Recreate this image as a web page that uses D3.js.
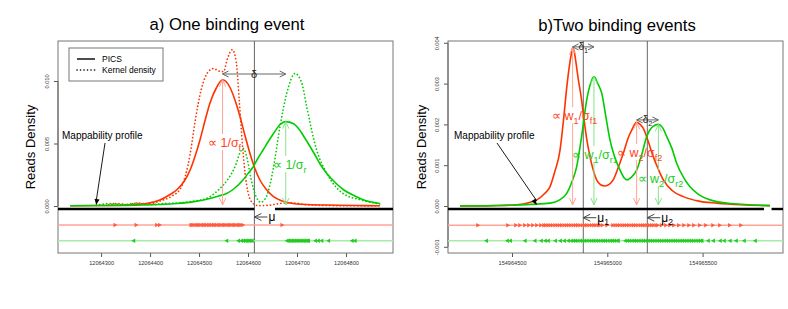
<!DOCTYPE html>
<html><head><meta charset="utf-8">
<script src="https://cdn.jsdelivr.net/npm/d3@7"></script>
<style>body{margin:0;background:#fff}svg{display:block;font-family:"Liberation Sans",Arial,sans-serif}</style>
</head><body><svg id="c" width="788" height="309"></svg>
<script>
// ---------- DATA ----------
const leftTicksX = [12064300, 12064400, 12064500, 12064600, 12064700, 12064800];
const leftTicksY = [0, 0.005, 0.010];
const rightTicksX = [154964500, 154965000, 154965500];
const rightTicksY = [-0.001, 0, 0.001, 0.002, 0.003, 0.004];
const legendLabels = ["PICS", "Kernel density"];
const titles = ["a) One binding event", "b)Two binding events"];

// Panel a: PICS fitted densities (position, density)
const leftPicsFwd = [[12064237,0.00002],[12064300,0.00004],[12064352,0.00008],[12064390,0.00018],[12064420,0.00048],[12064440,0.0009],[12064454,0.00128],[12064470,0.002],[12064482,0.0029],[12064492,0.0040],[12064502,0.0053],[12064512,0.0068],[12064522,0.0082],[12064536,0.0095],[12064548,0.0101],[12064563,0.0095],[12064574,0.0084],[12064584,0.0071],[12064594,0.0056],[12064604,0.0042],[12064614,0.0030],[12064624,0.0021],[12064638,0.0013],[12064652,0.00075],[12064670,0.0004],[12064692,0.0002],[12064730,0.0001],[12064761,0.00008],[12064820,0.00004],[12064869,0.00002]];
const leftPicsRev = [[12064237,0.00002],[12064300,0.00004],[12064352,0.00005],[12064420,0.00012],[12064454,0.0002],[12064490,0.00035],[12064522,0.0006],[12064540,0.0008],[12064556,0.001],[12064572,0.0014],[12064590,0.0021],[12064600,0.0026],[12064610,0.0031],[12064620,0.0038],[12064631,0.0045],[12064642,0.0052],[12064652,0.0058],[12064665,0.0065],[12064677,0.00675],[12064692,0.0066],[12064705,0.0061],[12064715,0.0055],[12064726,0.0048],[12064735,0.0042],[12064748,0.0033],[12064761,0.0026],[12064780,0.0018],[12064795,0.0013],[12064818,0.0008],[12064835,0.0005],[12064869,0.0002]];
// Panel a: kernel densities
const leftKdeFwd = [[12064315,0.0001],[12064335,0.0002],[12064355,0.0001],[12064375,0.00025],[12064395,0.00015],[12064420,0.0004],[12064445,0.0008],[12064462,0.0014],[12064472,0.0024],[12064482,0.0042],[12064492,0.0068],[12064505,0.0094],[12064518,0.0107],[12064530,0.011],[12064540,0.0108],[12064550,0.01075],[12064558,0.0118],[12064568,0.0125],[12064576,0.0115],[12064582,0.0085],[12064588,0.0052],[12064594,0.0026],[12064600,0.0011],[12064608,0.0003],[12064620,0.00003],[12064640,0.00005],[12064665,0.0002],[12064690,0.00025],[12064720,0.0001],[12064760,0.00004],[12064800,0.00002],[12064869,0.00002]];
const leftKdeRev = [[12064290,0.00005],[12064320,0.0002],[12064345,0.0001],[12064370,0.00022],[12064400,0.0001],[12064430,0.0002],[12064460,0.00025],[12064490,0.0004],[12064515,0.0006],[12064540,0.0013],[12064560,0.0022],[12064575,0.0033],[12064584,0.0043],[12064590,0.0046],[12064597,0.0040],[12064606,0.0022],[12064616,0.0008],[12064626,0.0003],[12064638,0.0008],[12064652,0.0031],[12064665,0.0063],[12064679,0.009],[12064696,0.0106],[12064710,0.0098],[12064720,0.0079],[12064740,0.0045],[12064761,0.0026],[12064794,0.001],[12064829,0.0005],[12064869,0.00016]];
// Panel a: mappable regions, reads
const leftMappable = [[12064212, 12064613], [12064655, 12064896]];
const leftFwdReads = [12064329,12064372,12064414,12064420,12064484,12064487,12064490,12064494,12064497,12064500,12064503,12064507,12064510,12064513,12064516,12064520,12064523,12064526,12064530,12064533,12064536,12064540,12064543,12064546,12064550,12064553,12064556,12064560,12064563,12064566,12064570,12064573,12064576,12064580,12064583,12064586,12064590,12064670];
const leftRevReads = [12064366,12064556,12064580,12064586,12064590,12064593,12064596,12064599,12064602,12064605,12064608,12064679,12064682,12064685,12064688,12064691,12064694,12064697,12064700,12064703,12064706,12064709,12064712,12064715,12064718,12064721,12064723,12064737,12064743,12064750,12064764,12064812,12064818];
const leftMu = 12064613;
const leftPeaks = {fwd:[12064548,0.0101], rev:[12064677,0.00675]};

// Panel b
const rightPicsFwd = [[154964227,0],[154964400,0.00001],[154964525,0.00003],[154964600,0.0001],[154964630,0.00015],[154964670,0.0003],[154964699,0.00047],[154964725,0.00085],[154964752,0.00137],[154964770,0.0021],[154964787,0.0029],[154964800,0.0034],[154964810,0.0037],[154964818,0.00388],[154964826,0.0038],[154964836,0.0035],[154964848,0.0031],[154964862,0.0027],[154964874,0.00227],[154964890,0.0017],[154964909,0.00121],[154964925,0.0009],[154964944,0.00064],[154964965,0.00052],[154964988,0.00049],[154965010,0.00053],[154965031,0.00064],[154965058,0.00095],[154965084,0.00129],[154965108,0.00165],[154965128,0.00186],[154965154,0.00205],[154965172,0.002],[154965189,0.0019],[154965215,0.00158],[154965241,0.00121],[154965268,0.0009],[154965294,0.00064],[154965340,0.00038],[154965399,0.00023],[154965480,0.00012],[154965574,0.00007],[154965700,0.00003],[154965854,0.00001]];
const rightPicsRev = [[154964227,0],[154964500,0.00002],[154964600,0.00004],[154964699,0.00007],[154964750,0.00015],[154964787,0.00031],[154964815,0.0006],[154964839,0.00096],[154964865,0.0017],[154964892,0.0026],[154964912,0.0030],[154964930,0.00317],[154964950,0.003],[154964971,0.00276],[154964992,0.0022],[154965014,0.00162],[154965040,0.00118],[154965067,0.00088],[154965090,0.00068],[154965105,0.00064],[154965125,0.0007],[154965154,0.00088],[154965180,0.00125],[154965207,0.0017],[154965240,0.00195],[154965268,0.002],[154965290,0.00192],[154965312,0.0017],[154965340,0.0014],[154965364,0.00105],[154965400,0.0007],[154965434,0.00047],[154965480,0.00028],[154965539,0.00015],[154965650,0.00006],[154965854,0.00001]];
const rightMappable = [[154964164, 154965822], [154965862, 154965922]];
const rightFwdReads = [154964322,154964479,154964521,154964542,154964568,154964589,154964610,154964631,154964652,154964668,154964678,154964690,154964701,154964713,154964726,154964738,154964749,154964761,154964774,154964786,154964797,154964809,154964822,154964834,154964845,154964857,154964870,154964882,154964893,154964905,154964918,154964930,154964941,154964953,154964962,154964975,154965000,154965030,154965042,154965053,154965065,154965078,154965090,154965101,154965113,154965126,154965138,154965149,154965161,154965174,154965186,154965197,154965209,154965222,154965234,154965245,154965257,154965266,154965285,154965308,154965329,154965350,154965376,154965403,154965429,154965455,154965486,154965518,154965555,154965591,154965643,154965702];
const rightRevReads = [154964364,154964474,154964490,154964567,154964619,154964652,154964673,154964689,154964726,154964752,154964773,154964794,154964810,154964822,154964833,154964845,154964858,154964870,154964881,154964893,154964906,154964918,154964929,154964941,154964954,154964966,154964977,154964989,154965002,154965014,154965025,154965037,154965050,154965056,154965093,154965105,154965117,154965129,154965141,154965153,154965165,154965177,154965189,154965201,154965213,154965225,154965237,154965249,154965261,154965273,154965285,154965297,154965309,154965321,154965333,154965345,154965357,154965369,154965381,154965393,154965405,154965417,154965429,154965441,154965453,154965465,154965477,154965489,154965495,154965528,154965555,154965591,154965612,154965643,154965675,154965717,154965775];
const rightMu = [154964874, 154965210];
const rightPeaks = {fwd:[[154964818,0.00388],[154965154,0.00205]], rev:[[154964930,0.00317],[154965268,0.002]]};

// ---------- STYLE ----------
const RED = "#ff3300", GREEN = "#00cc00";
const RED_L = "#ffa494", GREEN_L = "#a6eca6";
const RED_T = "#ff4422", GREEN_T = "#22cc22";

const svg = d3.select("#c");

function vArrowHead(g, x, y, dir, color, len = 7, spread = 3.2) {
  g.append("path").attr("d", `M${x - spread},${y - dir * len}L${x},${y}L${x + spread},${y - dir * len}`)
    .attr("fill", "none").attr("stroke", color).attr("stroke-width", 1);
}
function hArrowHead(g, x, y, dir, color, len = 7, spread = 3.2) {
  g.append("path").attr("d", `M${x - dir * len},${y - spread}L${x},${y}L${x - dir * len},${y + spread}`)
    .attr("fill", "none").attr("stroke", color).attr("stroke-width", 1);
}
function rich(g, x, y, parts, size, color, anchor = "middle") {
  const t = g.append("text").attr("x", x).attr("y", y).attr("font-size", size)
    .attr("fill", color).attr("text-anchor", anchor);
  let sub = false;
  parts.forEach(([s, isSub]) => {
    const sp = t.append("tspan").text(s);
    if (isSub && !sub) sp.attr("dy", size * 0.3).attr("font-size", size * 0.72);
    else if (isSub) sp.attr("font-size", size * 0.72);
    else if (!isSub && sub) sp.attr("dy", -size * 0.3);
    sub = isSub;
  });
  return t;
}

function panel(p) {
  const x = d3.scaleLinear().domain(p.xDomain).range([p.left, p.right]);
  const y = d3.scaleLinear().domain(p.yDomain).range([p.bottom, p.top]);
  const g = svg.append("g");

  g.append("text").attr("x", p.titleX).attr("y", p.titleY).attr("text-anchor", "middle")
    .attr("font-size", 16.7).attr("fill", "#000").text(p.title);

  g.append("text").attr("transform", `translate(${p.ylabX},${(p.top + p.bottom) / 2}) rotate(-90)`)
    .attr("text-anchor", "middle").attr("font-size", 13).attr("fill", "#000").text("Reads Density");

  const xa = g.append("g").attr("transform", `translate(0,${p.bottom})`)
    .call(d3.axisBottom(x).tickValues(p.xTicks).tickSize(4).tickPadding(4).tickFormat(d3.format("d")));
  xa.select(".domain").remove();
  xa.selectAll("line").attr("stroke", "#555");
  xa.selectAll("text").attr("font-size", 5.6).attr("fill", "#333").attr("font-family", "Liberation Sans, Arial, sans-serif");

  const ya = g.append("g").attr("transform", `translate(${p.left},0)`)
    .call(d3.axisLeft(y).tickValues(p.yTicks).tickSize(4).tickFormat(d => d3.format(".3f")(d).replace("\u2212", "-")));
  ya.select(".domain").attr("d", `M0,${y(p.yTicks[0])}V${y(p.yTicks[p.yTicks.length - 1])}`).attr("stroke", "#555");
  ya.selectAll("line").attr("stroke", "#555");
  ya.selectAll("text").attr("font-size", 5.6).attr("fill", "#333").attr("font-family", "Liberation Sans, Arial, sans-serif")
    .attr("x", 0).attr("y", -9).attr("dy", 0).attr("text-anchor", "middle").attr("transform", "rotate(-90)");

  g.append("rect").attr("x", p.left).attr("y", p.top).attr("width", p.right - p.left).attr("height", p.bottom - p.top)
    .attr("fill", "none").attr("stroke", "#777").attr("stroke-width", 1);

  return {x, y, g};
}

function readsRow(P, reads, level, lineColor, fillColor, dir) {
  const {x, y, g} = P;
  g.append("line").attr("x1", x.range()[0]).attr("x2", x.range()[1]).attr("y1", y(level)).attr("y2", y(level))
    .attr("stroke", lineColor).attr("stroke-width", 1.4);
  g.selectAll(null).data(reads).enter().append("path")
    .attr("transform", d => `translate(${x(d)},${y(level)})`)
    .attr("d", dir > 0 ? "M-1.8,-2.2L2,0L-1.8,2.2Z" : "M1.8,-2.2L-2,0L1.8,2.2Z")
    .attr("fill", fillColor).attr("stroke", "none");
}

function curve(P, data, color, dotted) {
  const {x, y, g} = P;
  const line = d3.line().x(d => x(d[0])).y(d => y(d[1])).curve(d3.curveMonotoneX);
  g.append("path").datum(data).attr("d", line).attr("fill", "none").attr("stroke", color)
    .attr("stroke-width", dotted ? 1.7 : 1.6)
    .attr("stroke-dasharray", dotted ? "0.1,3.4" : null).attr("stroke-linecap", dotted ? "round" : "butt");
}

function mappability(P, segs, level) {
  const {x, y, g} = P;
  g.selectAll(null).data(segs).enter().append("line")
    .attr("x1", d => x(d[0])).attr("x2", d => x(d[1])).attr("y1", y(level)).attr("y2", y(level))
    .attr("stroke", "#000").attr("stroke-width", 2.4);
}

function muLine(P, mu) {
  const {x, y, g} = P;
  g.append("line").attr("x1", x(mu)).attr("x2", x(mu)).attr("y1", y.range()[1]).attr("y2", y.range()[0])
    .attr("stroke", "#555").attr("stroke-width", 0.9);
}

function peakArrow(P, peak, gapCenter, color) {
  const {x, y, g} = P;
  const px = x(peak[0]), top = y(peak[1]), bot = y(0) - 1, gc = y(gapCenter);
  g.append("line").attr("x1", px).attr("x2", px).attr("y1", top).attr("y2", gc - 9).attr("stroke", color).attr("stroke-width", 1);
  g.append("line").attr("x1", px).attr("x2", px).attr("y1", gc + 7).attr("y2", bot).attr("stroke", color).attr("stroke-width", 1);
  vArrowHead(g, px, top, -1, color);
  vArrowHead(g, px, bot, 1, color);
}

function deltaArrow(P, a, b, level, label, sub, size) {
  const {x, y, g} = P;
  const x1 = x(a), x2 = x(b), yy = y(level);
  g.append("line").attr("x1", x1).attr("x2", x2).attr("y1", yy).attr("y2", yy).attr("stroke", "#666").attr("stroke-width", 1);
  hArrowHead(g, x1, yy, -1, "#666", 6, 3);
  hArrowHead(g, x2, yy, 1, "#666", 6, 3);
  const parts = sub ? [[label, 0], [sub, 1]] : [[label, 0]];
  rich(g, (x1 + x2) / 2, yy + size * 0.35, parts, size, "#222");
}

function muArrow(P, mu, level, sub) {
  const {x, y, g} = P;
  const x0 = x(mu), yy = y(level);
  g.append("line").attr("x1", x0).attr("x2", x0 + 13).attr("y1", yy).attr("y2", yy).attr("stroke", "#444").attr("stroke-width", 1);
  hArrowHead(g, x0, yy, -1, "#444", 7, 3.5);
  const parts = sub ? [["\u03bc", 0], [sub, 1]] : [["\u03bc", 0]];
  rich(g, x0 + 14, yy + 4, parts, 12, "#000", "start");
}

function mapLabel(P, tx, ty, ax0, ay0, pos) {
  const {x, y, g} = P;
  g.append("text").attr("x", tx).attr("y", ty).attr("font-size", 10).attr("fill", "#000").text("Mappability profile");
  const ex = x(pos), ey = y(0) - 1;
  g.append("line").attr("x1", ax0).attr("y1", ay0).attr("x2", ex).attr("y2", ey - 4).attr("stroke", "#000").attr("stroke-width", 0.9);
  const ang = Math.atan2(ey - ay0, ex - ax0);
  const L = 6, S = 2.5;
  const bx = ex - L * Math.cos(ang), by = ey - L * Math.sin(ang);
  g.append("path").attr("d", `M${ex},${ey}L${bx - S * Math.sin(ang)},${by + S * Math.cos(ang)}L${bx + S * Math.sin(ang)},${by - S * Math.cos(ang)}Z`).attr("fill", "#000");
}

// ---------- PANEL A ----------
const A = panel({left: 58, right: 393, top: 41, bottom: 253,
  xDomain: [12064212, 12064896], yDomain: [-0.00376, 0.0132],
  xTicks: leftTicksX, yTicks: leftTicksY, title: titles[0], titleX: 227, titleY: 30, ylabX: 35});

muLine(A, leftMu);
mappability(A, leftMappable, -0.00024);
readsRow(A, leftFwdReads, -0.00152, RED_L, "#ff5a3c", 1);
readsRow(A, leftRevReads, -0.00278, GREEN_L, "#22cc22", -1);
curve(A, leftKdeFwd, RED, true);
curve(A, leftKdeRev, GREEN, true);
curve(A, leftPicsFwd, RED, false);
curve(A, leftPicsRev, GREEN, false);
peakArrow(A, leftPeaks.fwd, 0.00504, RED_L);
peakArrow(A, leftPeaks.rev, 0.00328, "#88e488");
rich(A.g, A.x(leftPeaks.fwd[0]) + 2, A.y(0.00504) + 4, [["\u221d 1/\u03c3", 0], ["f", 1]], 12.5, RED_T);
rich(A.g, A.x(leftPeaks.rev[0]) + 4, A.y(0.00328) + 4, [["\u221d 1/\u03c3", 0], ["r", 1]], 12.5, GREEN_T);
deltaArrow(A, leftPeaks.fwd[0], leftPeaks.rev[0], 0.01056, "\u03b4", null, 11);
muArrow(A, leftMu, -0.00088, null);
mapLabel(A, 62, 139, 105, 143, 12064290);

const lg = A.g.append("g");
lg.append("rect").attr("x", 69).attr("y", 48).attr("width", 94).attr("height", 33).attr("fill", "#fff").attr("stroke", "#777");
legendLabels.forEach((l, i) => {
  const yy = 59 + i * 11;
  lg.append("line").attr("x1", 77).attr("x2", 95).attr("y1", yy).attr("y2", yy).attr("stroke", "#000")
    .attr("stroke-width", i ? 1.6 : 1.4).attr("stroke-dasharray", i ? "0.1,3.4" : null).attr("stroke-linecap", i ? "round" : "butt");
  lg.append("text").attr("x", 102).attr("y", yy + 3).attr("font-size", 8.5).attr("fill", "#000").text(l);
});

// ---------- PANEL B ----------
const B = panel({left: 448, right: 783, top: 41, bottom: 253,
  xDomain: [154964164, 154965922], yDomain: [-0.001152, 0.004044],
  xTicks: rightTicksX, yTicks: rightTicksY, title: titles[1], titleX: 617, titleY: 31, ylabX: 426});

rightMu.forEach(m => muLine(B, m));
mappability(B, rightMappable, -0.0000735);
readsRow(B, rightFwdReads, -0.000473, RED_L, "#ff5a3c", 1);
readsRow(B, rightRevReads, -0.00085, GREEN_L, "#22cc22", -1);
curve(B, rightPicsFwd, RED, false);
curve(B, rightPicsRev, GREEN, false);
peakArrow(B, rightPeaks.fwd[0], 0.0022, RED_L);
peakArrow(B, rightPeaks.rev[0], 0.00125, "#88e488");
peakArrow(B, rightPeaks.fwd[1], 0.0013, RED_L);
peakArrow(B, rightPeaks.rev[1], 0.00066, "#88e488");
rich(B.g, B.x(rightPeaks.fwd[0][0]) + 2, B.y(0.0022) + 4, [["\u221d w", 0], ["1", 1], ["/\u03c3", 0], ["f1", 1]], 12.5, RED_T);
rich(B.g, B.x(rightPeaks.rev[0][0]) + 1, B.y(0.00125) + 4, [["\u221d w", 0], ["1", 1], ["/\u03c3", 0], ["r1", 1]], 12.5, GREEN_T);
rich(B.g, B.x(rightPeaks.fwd[1][0]) + 3, B.y(0.0013) + 4, [["\u221d w", 0], ["2", 1], ["/\u03c3", 0], ["f2", 1]], 12.5, RED_T);
rich(B.g, B.x(rightPeaks.rev[1][0]) + 2, B.y(0.00066) + 4, [["\u221d w", 0], ["2", 1], ["/\u03c3", 0], ["r2", 1]], 12.5, GREEN_T);
deltaArrow(B, rightPeaks.fwd[0][0], rightPeaks.rev[0][0], 0.0039, "\u03b4", "1", 10);
deltaArrow(B, rightPeaks.fwd[1][0], rightPeaks.rev[1][0], 0.00211, "\u03b4", "2", 10);
rightMu.forEach((m, i) => muArrow(B, m, -0.000287, String(i + 1)));
mapLabel(B, 454, 139, 497, 143, 154964630);
</script>
</body></html>
